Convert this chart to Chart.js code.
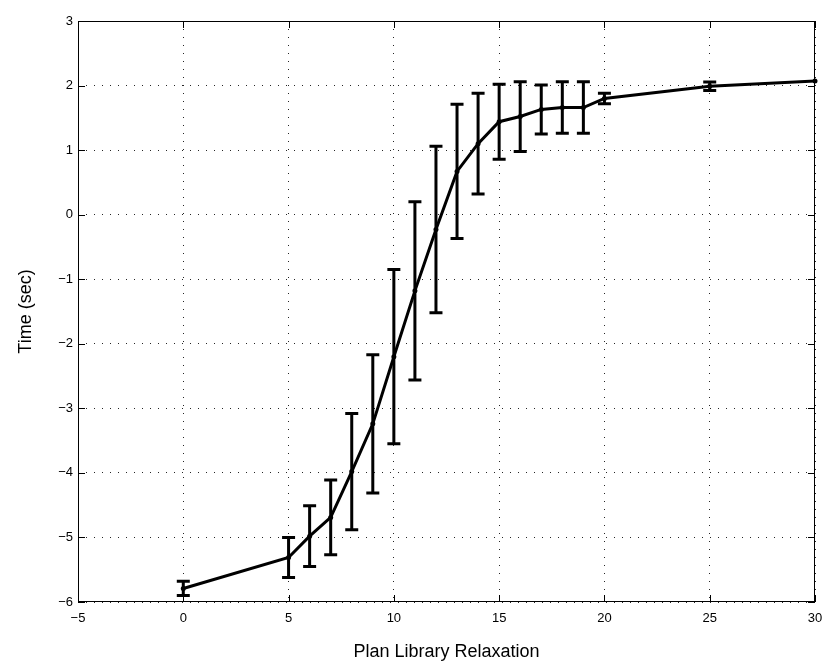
<!DOCTYPE html>
<html>
<head>
<meta charset="utf-8">
<script src="https://cdn.jsdelivr.net/npm/chart.js@4"></script>
<style>
  html, body { margin: 0; padding: 0; background: #fff; }
</style>
</head>
<body>
<canvas id="relaxChart" width="829" height="666"></canvas>
<script>
// Datos
const relaxation = [0, 5, 6, 7, 8, 9, 10, 11, 12, 13, 14, 15, 16, 17, 18, 19, 20, 25, 30];
const meanTime = [-5.79, -5.31, -4.98, -4.69, -3.98, -3.24, -2.20, -1.18, -0.23, 0.67, 1.10, 1.44, 1.52, 1.63, 1.66, 1.66, 1.80, 1.99, 2.07];
const errTime = [0.11, 0.31, 0.47, 0.58, 0.90, 1.07, 1.35, 1.38, 1.29, 1.04, 0.78, 0.58, 0.54, 0.38, 0.40, 0.40, 0.08, 0.065, 0];
const xTicks = [-5, 0, 5, 10, 15, 20, 25, 30];
const yTicks = [-6, -5, -4, -3, -2, -1, 0, 1, 2, 3];

const FONT = "'Liberation Sans', Arial, Helvetica, sans-serif";
const minus = (v) => String(v).replace("-", "\u2212");

// Barras de error con remates
const errorBars = {
    id: "errorBars",
    afterDatasetsDraw(chart) {
        const { ctx, scales: { x, y } } = chart;
        ctx.save();
        ctx.strokeStyle = "#000";
        ctx.lineWidth = 3;
        ctx.lineCap = "butt";
        relaxation.forEach((r, i) => {
            if (!errTime[i]) return;
            const px = x.getPixelForValue(r);
            const top = y.getPixelForValue(meanTime[i] + errTime[i]);
            const bot = y.getPixelForValue(meanTime[i] - errTime[i]);
            ctx.beginPath();
            ctx.moveTo(px, top);
            ctx.lineTo(px, bot);
            ctx.moveTo(px - 6.5, top);
            ctx.lineTo(px + 6.5, top);
            ctx.moveTo(px - 6.5, bot);
            ctx.lineTo(px + 6.5, bot);
            ctx.stroke();
        });
        ctx.restore();
    },
};

// Marco y marcas hacia dentro (estilo MATLAB)
const boxFrame = {
    id: "boxFrame",
    afterDraw(chart) {
        const { ctx, chartArea: a, scales: { x, y } } = chart;
        const len = 7;
        ctx.save();
        ctx.strokeStyle = "#000";
        ctx.lineWidth = 1;
        ctx.strokeRect(a.left + 0.5, a.top + 0.5, a.width - 1, a.height - 1);
        ctx.beginPath();
        xTicks.forEach((v) => {
            const px = Math.round(x.getPixelForValue(v)) + 0.5;
            ctx.moveTo(px, a.bottom);
            ctx.lineTo(px, a.bottom - len);
            ctx.moveTo(px, a.top);
            ctx.lineTo(px, a.top + len);
        });
        yTicks.forEach((v) => {
            const py = Math.round(y.getPixelForValue(v)) + 0.5;
            ctx.moveTo(a.left, py);
            ctx.lineTo(a.left + len, py);
            ctx.moveTo(a.right, py);
            ctx.lineTo(a.right - len, py);
        });
        ctx.stroke();
        ctx.restore();
    },
};

const ctx = document.getElementById("relaxChart").getContext("2d");
new Chart(ctx, {
    type: "scatter",
    data: {
        datasets: [
            {
                data: relaxation.map((r, i) => ({ x: r, y: meanTime[i] })),
                showLine: true,
                borderColor: "#000",
                backgroundColor: "#000",
                borderWidth: 3,
                pointRadius: 2.5,
                pointBorderWidth: 0,
                tension: 0,
                clip: false,
            },
        ],
    },
    options: {
        responsive: false,
        animation: false,
        devicePixelRatio: 1,
        layout: { padding: { top: 21, right: 14, left: 0, bottom: 0 } },
        plugins: {
            legend: { display: false },
            tooltip: { enabled: false },
        },
        scales: {
            x: {
                type: "linear",
                min: -5,
                max: 30,
                afterBuildTicks: (s) => { s.ticks = xTicks.map((v) => ({ value: v })); },
                afterFit: (s) => {
                    s.height = 64;
                    s.paddingLeft = 0;
                    s.paddingRight = 0;
                },
                ticks: {
                    color: "#000",
                    font: { family: FONT, size: 13 },
                    padding: 9,
                    callback: minus,
                },
                grid: { color: "rgba(0,0,0,0.85)", lineWidth: 1, drawTicks: false },
                border: { display: false, dash: [1, 7] },
                title: {
                    display: true,
                    text: "Plan Library Relaxation",
                    color: "#000",
                    font: { family: FONT, size: 18 },
                    padding: { top: 2, bottom: 3 },
                },
            },
            y: {
                type: "linear",
                min: -6,
                max: 3,
                afterBuildTicks: (s) => { s.ticks = yTicks.map((v) => ({ value: v })); },
                afterFit: (s) => { s.width = 78; },
                ticks: {
                    color: "#000",
                    font: { family: FONT, size: 13 },
                    padding: 5,
                    callback: minus,
                },
                grid: { color: "rgba(0,0,0,0.85)", lineWidth: 1, drawTicks: false },
                border: { display: false, dash: [1, 7] },
                title: {
                    display: true,
                    text: "Time (sec)",
                    color: "#000",
                    font: { family: FONT, size: 18 },
                    padding: { top: 15, bottom: 0 },
                },
            },
        },
    },
    plugins: [errorBars, boxFrame],
});
</script>
</body>
</html>
